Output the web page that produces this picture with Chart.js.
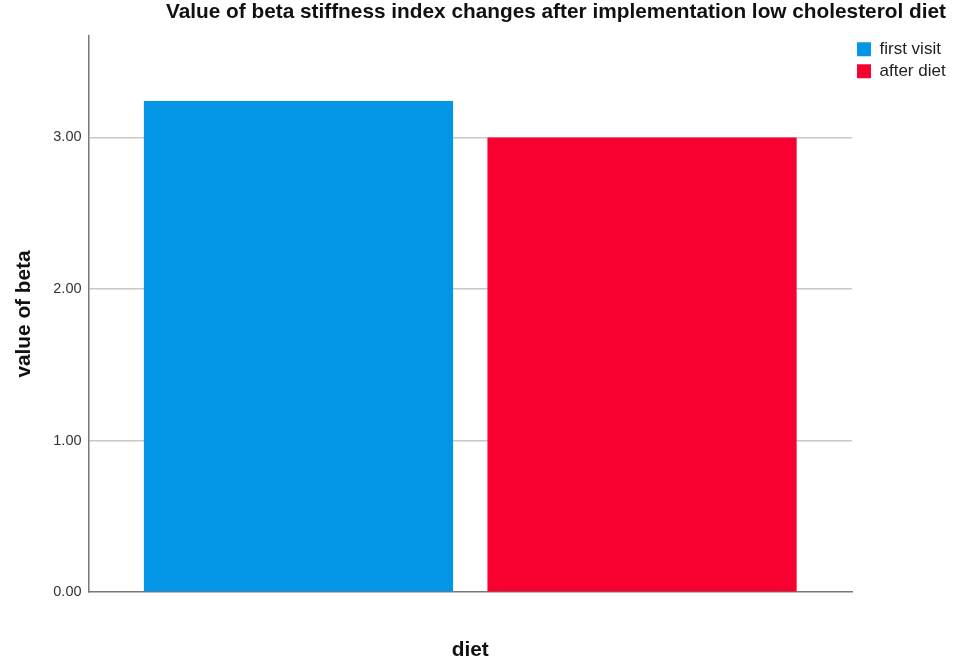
<!DOCTYPE html>
<html>
<head>
<meta charset="utf-8">
<script src="https://cdn.jsdelivr.net/npm/chart.js@4.4.1/dist/chart.umd.min.js"></script>
<style>
  html, body { margin: 0; padding: 0; background: #fff; }
  #wrap { width: 974px; height: 661px; }
</style>
</head>
<body>
<div id="wrap"><canvas id="beta"></canvas></div>
<script>
// data
var categories = [''];
var seriesNames = ['first visit', 'after diet'];
var firstVisit = [3.24];
var afterDiet = [3.00];
var yTicks = [0, 1, 2, 3];
var barColors = ['#0396e6', '#f8002f'];

var boldFont = { family: 'Arial, "Liberation Sans"', size: 20.8, weight: 'bold', lineHeight: 1 };

var ctx = document.getElementById('beta').getContext('2d');

var chart = new Chart(ctx, {
  type: 'bar',
  data: {
    labels: categories,
    datasets: [{
      label: seriesNames[0],
      data: firstVisit,
      backgroundColor: barColors[0],
      borderWidth: 0
    }, {
      label: seriesNames[1],
      data: afterDiet,
      backgroundColor: barColors[1],
      borderWidth: 0
    }]
  },
  options: {
    responsive: true,
    maintainAspectRatio: false,
    animation: false,
    categoryPercentage: 0.9,
    barPercentage: 0.9,
    layout: {
      padding: { left: 0, right: 28, top: 0, bottom: 0 }
    },
    scales: {
      x: {
        grid: { display: false, drawTicks: false },
        border: { display: true, color: '#777', width: 1.5 },
        ticks: { display: false },
        title: {
          display: true,
          text: 'diet',
          color: '#111',
          font: boldFont,
          padding: { top: 48, bottom: 0 }
        }
      },
      y: {
        min: 0,
        max: 3.67,
        afterBuildTicks: function (axis) {
          axis.ticks = yTicks.map(function (v) { return { value: v }; });
        },
        grid: {
          color: function (c) { return c.tick && c.tick.value === 0 ? 'rgba(0,0,0,0)' : '#c8c8c8'; },
          lineWidth: 1.5,
          drawTicks: false
        },
        border: { display: true, color: '#777', width: 1.5 },
        ticks: {
          padding: 7,
          color: '#333',
          font: { family: 'Arial, "Liberation Sans"', size: 14.5 },
          callback: function (v) { return Number(v).toFixed(2); }
        },
        title: {
          display: true,
          text: 'value of beta',
          color: '#111',
          font: boldFont,
          padding: { top: 14, bottom: 11.5 }
        }
      }
    },
    plugins: {
      title: {
        display: true,
        text: 'Value of beta stiffness index changes after implementation low cholesterol diet',
        align: 'end',
        color: '#111',
        font: boldFont,
        padding: { top: 1.5, bottom: 13.5 }
      },
      legend: {
        position: 'right',
        align: 'start',
        fullSize: false,
        maxWidth: 94,
        labels: {
          boxWidth: 14,
          boxHeight: 14,
          padding: 5,
          color: '#222',
          font: { family: 'Arial, "Liberation Sans"', size: 17 }
        }
      },
      tooltip: { enabled: false }
    }
  }
});
</script>
</body>
</html>
